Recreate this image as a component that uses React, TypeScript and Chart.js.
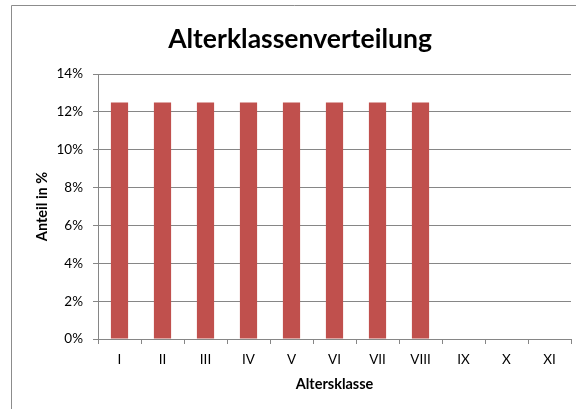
import { useEffect, useRef } from "react";
import { Chart, registerables } from "chart.js";

Chart.register(...registerables);

const categories = ["I", "II", "III", "IV", "V", "VI", "VII", "VIII", "IX", "X", "XI"];
const shares = [12.5, 12.5, 12.5, 12.5, 12.5, 12.5, 12.5, 12.5, 0, 0, 0];
const yMin = 0;
const yMax = 14;
const yStep = 2;

const chartTitle = "Alterklassenverteilung";
const xTitle = "Altersklasse";
const yTitle = "Anteil in %";

const FONT = "Lato, 'Open Sans', sans-serif";
const GRID = "#868686";
const BAR = "#C0504D";

const decorations = {
  id: "decorations",
  beforeDraw(chart: any) {
    const ctx = chart.ctx;
    ctx.save();
    ctx.fillStyle = "#ffffff";
    ctx.fillRect(0, 0, chart.width, chart.height);
    ctx.strokeStyle = "#8c8c8c";
    ctx.lineWidth = 1;
    ctx.beginPath();
    ctx.moveTo(11.5, chart.height + 5);
    ctx.lineTo(11.5, 5.5);
    ctx.lineTo(chart.width + 5, 5.5);
    ctx.stroke();
    ctx.restore();
  },
  afterDraw(chart: any) {
    const ctx = chart.ctx;
    const a = chart.chartArea;
    ctx.save();
    ctx.fillStyle = "#000000";
    ctx.textAlign = "center";
    ctx.textBaseline = "middle";
    ctx.font = `bold 26.5px ${FONT}`;
    ctx.fillText(chartTitle, 300, 39);
    ctx.font = `bold 14.5px ${FONT}`;
    ctx.fillText(xTitle, (a.left + a.right) / 2, 384);
    ctx.translate(42, (a.top + a.bottom) / 2);
    ctx.rotate(-Math.PI / 2);
    ctx.fillText(yTitle, 0, 0);
    ctx.restore();
  },
};

export default function App() {
  const ref = useRef<HTMLCanvasElement | null>(null);

  useEffect(() => {
    if (!ref.current) return;
    const chart = new Chart(ref.current, {
      type: "bar",
      data: {
        labels: categories,
        datasets: [
          {
            data: shares,
            backgroundColor: BAR,
            borderWidth: 0,
            barPercentage: 0.4,
            categoryPercentage: 1,
          },
        ],
      },
      options: {
        responsive: false,
        animation: false,
        devicePixelRatio: 1,
        layout: { padding: { left: 12, top: 74, right: 5, bottom: 0 } },
        plugins: {
          legend: { display: false },
          title: { display: false },
          tooltip: { enabled: false },
        },
        scales: {
          x: {
            offset: true,
            afterFit(scale: any) {
              scale.height = 70;
            },
            grid: {
              offset: true,
              drawOnChartArea: false,
              drawTicks: true,
              tickLength: 5,
              color: GRID,
            },
            border: { display: true, color: GRID },
            ticks: {
              color: "#000000",
              font: { family: FONT, size: 13.5 },
              padding: 8,
              maxRotation: 0,
              autoSkip: false,
            },
          },
          y: {
            min: yMin,
            max: yMax,
            afterFit(scale: any) {
              scale.width = 86;
            },
            grid: {
              color: GRID,
              drawTicks: true,
              tickLength: 5,
            },
            border: { display: true, color: GRID },
            ticks: {
              stepSize: yStep,
              color: "#000000",
              font: { family: FONT, size: 13.5 },
              padding: 10,
              callback: (v: any) => `${v}%`,
            },
          },
        },
      },
      plugins: [decorations],
    });
    return () => chart.destroy();
  }, []);

  return (
    <canvas
      ref={ref}
      width={576}
      height={409}
      style={{ position: "fixed", left: 0, top: 0, display: "block", width: 576, height: 409 }}
    />
  );
}
